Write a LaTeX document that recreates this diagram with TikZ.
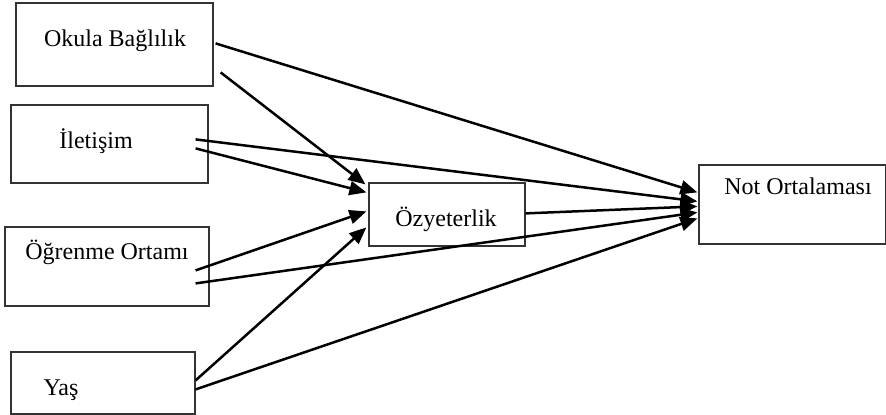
\documentclass[tikz,border=0pt]{standalone}
\usepackage{fontspec}
\setmainfont{Liberation Serif}
\usetikzlibrary{arrows.meta,calc,fit}

\tikzset{
  box/.style={draw=black!80, line width=0.6pt, inner sep=0pt},
  lbl/.style={anchor=base, inner sep=0pt, font=\fontsize{12}{14}\selectfont},
  arr/.style={line width=1.25pt, -{Triangle[length=8.5pt,width=7pt]}}
}

\begin{document}
\begin{tikzpicture}[x=0.5pt, y=-0.5pt]
  \useasboundingbox (0,0) rectangle (886,415);

  % boxes
  \node[box, fit={(16,3) (213,86)}]   (okula) {};
  \node[box, fit={(11,105) (208,183)}] (ilet)  {};
  \node[box, fit={(5,227) (209,306)}]  (ogren) {};
  \node[box, fit={(11,352) (195,414)}] (yas)   {};
  \node[box, fit={(369,183) (525,246)}] (ozy)  {};
  \node[box, fit={(699,165) (886,244)}] (not) {};

  % labels
  \node[lbl] (tokula) at (115,47)  {Okula Bağlılık};
  \node[lbl] (tilet)  at (96,149)  {İletişim};
  \node[lbl] (togren) at (107,260) {Öğrenme Ortamı};
  \node[lbl] (tyas)   at (61,395)  {Yaş};
  \node[lbl] (tozy)   at (446,227) {Özyeterlik};
  \node[lbl] (tnot)   at (798,195) {Not Ortalaması};

  % paths into Özyeterlik
  \draw[arr] ($(okula.north east)+(7,70)$)  -- ($(ozy.north west)+(-3,2)$);
  \draw[arr] ($(ilet.north east)+(-13,44)$) -- ($(ozy.north west)+(-2,10)$);
  \draw[arr] ($(ogren.north east)+(-14,44)$) -- ($(ozy.north west)+(-2,29)$);
  \draw[arr] ($(yas.north east)+(0,29)$)    -- ($(ozy.north west)+(-2,45)$);

  % paths into Not Ortalaması
  \draw[arr] ($(okula.north east)+(2,41)$)  -- ($(not.north west)+(-1,28)$);
  \draw[arr] ($(ilet.north east)+(-13,35)$) -- ($(not.north west)+(-1,37)$);
  \draw[arr] ($(ozy.north east)+(0,31)$)    -- ($(not.north west)+(-1,42)$);
  \draw[arr] ($(ogren.north east)+(-14,57)$) -- ($(not.north west)+(-1,48)$);
  \draw[arr] ($(yas.north east)+(0,38)$)    -- ($(not.north west)+(-1,54)$);
\end{tikzpicture}
\end{document}
